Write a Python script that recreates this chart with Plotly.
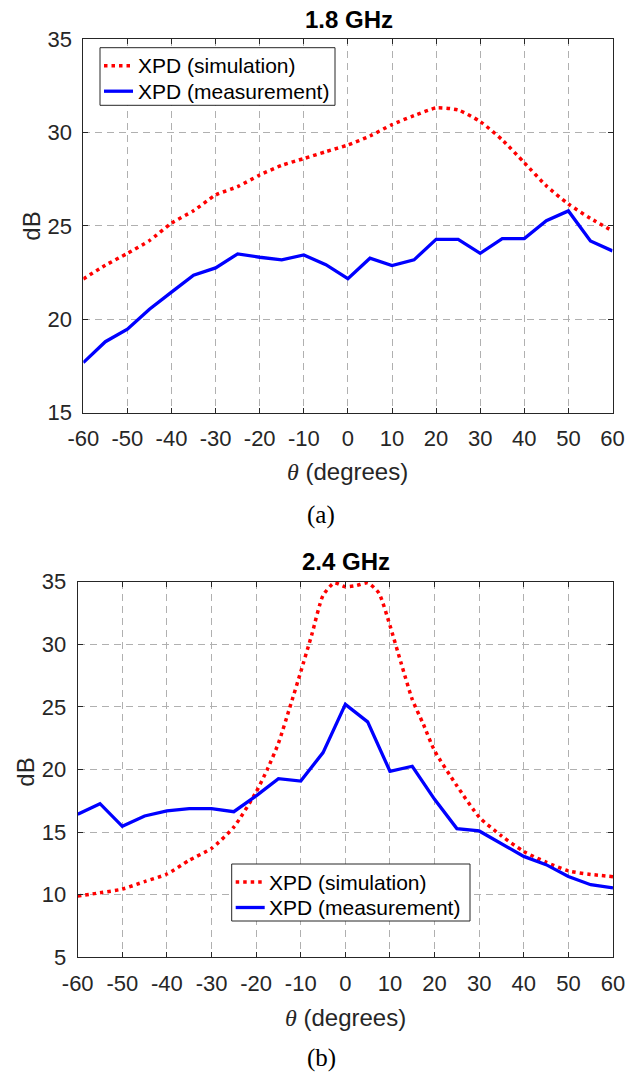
import plotly.graph_objects as go

# ---------------- data ----------------
theta = [-60, -55, -50, -45, -40, -35, -30, -25, -20, -15, -10, -5, 0,
         5, 10, 15, 20, 25, 30, 35, 40, 45, 50, 55, 60]

sim_a = [22.16, 22.89, 23.53, 24.21, 25.14, 25.81, 26.65, 27.1, 27.72, 28.24,
         28.6, 28.97, 29.33, 29.81, 30.42, 30.9, 31.31, 31.2, 30.58, 29.6,
         28.38, 27.14, 26.17, 25.4, 24.73]
meas_a = [17.68, 18.8, 19.47, 20.54, 21.45, 22.36, 22.75, 23.5, 23.32, 23.18,
          23.44, 22.92, 22.17, 23.27, 22.87, 23.18, 24.28, 24.28, 23.53, 24.32,
          24.32, 25.28, 25.8, 24.19, 23.66]

theta_sim_b = [-60, -55, -50, -45, -40, -35, -30, -25, -20, -17.5, -15, -12.5,
               -10, -7.5, -5, -2.5, 0, 2.5, 5, 7.5, 10, 12.5, 15, 17.5, 20,
               25, 30, 35, 40, 45, 50, 55, 60]
sim_b = [9.9, 10.15, 10.45, 11.05, 11.65, 12.75, 13.7, 15.4, 18.2, 20.0, 22.1,
         24.9, 27.8, 30.8, 33.9, 34.9, 34.6, 34.7, 34.9, 34.1, 31.5, 28.5,
         25.6, 23.6, 21.5, 18.7, 16.2, 14.7, 13.45, 12.6, 11.9, 11.62, 11.44]
meas_b = [16.42, 17.27, 15.46, 16.29, 16.69, 16.87, 16.87, 16.63, 17.89, 19.27,
          19.08, 21.35, 25.2, 23.8, 19.86, 20.26, 17.62, 15.28, 15.09, 14.1,
          13.06, 12.4, 11.45, 10.8, 10.55]

x_ticks = [-60, -50, -40, -30, -20, -10, 0, 10, 20, 30, 40, 50, 60]
x_ticktext = ["-60", "-50", "-40", "-30", "-20", "-10", "0", "10", "20",
              "30", "40", "50", "60"]
titles = ["1.8 GHz", "2.4 GHz"]
captions = ["(a)", "(b)"]
names = ["XPD (simulation)", "XPD (measurement)"]

# ---------------- layout helpers ----------------
W, H = 642, 1072
def px(x):
    return x / W
def py(y):
    return 1 - y / H

SANS = "Liberation Sans, Arial, sans-serif"
SERIF = "Liberation Serif, Times New Roman, serif"
RED = "#ff0000"
BLUE = "#0000ff"
AX = "#262626"
GRID = "#b0b0b0"
SIM_LINE = dict(color=RED, width=3.5, dash="3.5px,4px")
MEAS_LINE = dict(color=BLUE, width=3.3)

fig = go.Figure()

fig.add_trace(go.Scatter(x=theta, y=sim_a, mode="lines", name=names[0],
                         line=dict(shape="spline", smoothing=0.6, **SIM_LINE),
                         xaxis="x", yaxis="y", showlegend=False))
fig.add_trace(go.Scatter(x=theta, y=meas_a, mode="lines", name=names[1],
                         line=MEAS_LINE, xaxis="x", yaxis="y", showlegend=False))
fig.add_trace(go.Scatter(x=theta_sim_b, y=sim_b, mode="lines", name=names[0],
                         line=dict(shape="spline", smoothing=0.6, **SIM_LINE),
                         xaxis="x2", yaxis="y2", showlegend=False))
fig.add_trace(go.Scatter(x=theta, y=meas_b, mode="lines", name=names[1],
                         line=MEAS_LINE, xaxis="x2", yaxis="y2", showlegend=False))

axis_common = dict(
    showline=True, linecolor=AX, linewidth=1, mirror="allticks",
    ticks="inside", ticklen=5, tickcolor=AX, tickwidth=1,
    showgrid=True, gridcolor=GRID, gridwidth=1, griddash="7px,5px",
    zeroline=False, tickfont=dict(family=SANS, size=22, color=AX),
    automargin=False,
)
xax = dict(range=[-60, 60], tickvals=x_ticks, ticktext=x_ticktext,
           ticklabelstandoff=6, **axis_common)
yax = dict(dtick=5, ticklabelstandoff=6, **axis_common)

fig.update_layout(
    template="none",
    width=W, height=H,
    margin=dict(l=0, r=0, t=0, b=0, pad=0, autoexpand=False),
    paper_bgcolor="white", plot_bgcolor="white",
    font=dict(family=SANS, color=AX),
    xaxis=dict(domain=[px(83.3), px(612.5)], anchor="y", **xax),
    yaxis=dict(domain=[py(412.7), py(39)], range=[15, 35], anchor="x", **yax),
    xaxis2=dict(domain=[px(77.7), px(613)], anchor="y2", **xax),
    yaxis2=dict(domain=[py(957.3), py(581.7)], range=[5, 35], anchor="x2", **yax),
    showlegend=False,
)

annos = []
shapes = []
# titles
for t, (xc, yc) in zip(titles, [(349.3, 19.7), (345.8, 561.7)]):
    annos.append(dict(text="<b>%s</b>" % t, x=px(xc), y=py(yc), xref="paper", yref="paper",
                      showarrow=False, xanchor="center", yanchor="middle",
                      font=dict(family=SANS, size=24, color="black")))

xlabel = ('<span style="font-family:Liberation Serif;font-style:italic">θ</span>'
          ' (degrees)')
for xc, yc in [(348, 471.7), (345, 1017)]:
    annos.append(dict(text=xlabel, x=px(xc), y=py(yc), xref="paper", yref="paper",
                      showarrow=False, xanchor="center", yanchor="middle",
                      font=dict(family=SANS, size=24, color=AX)))
for xc, yc in [(32, 226.7), (26, 772.7)]:
    annos.append(dict(text="dB", x=px(xc), y=py(yc), xref="paper", yref="paper",
                      showarrow=False, xanchor="center", yanchor="middle", textangle=-90,
                      font=dict(family=SANS, size=24, color=AX)))
for cap, (xc, yc) in zip(captions, [(321, 515), (321.7, 1058)]):
    annos.append(dict(text=cap, x=px(xc), y=py(yc), xref="paper", yref="paper",
                      showarrow=False, xanchor="center", yanchor="middle",
                      font=dict(family=SERIF, size=25, color="black")))

# legends (box, sample line, label) for each panel
legend_boxes = [(100, 47.7, 335, 105.3), (231.7, 864, 470, 921)]
for (x0, y0, x1, y1) in legend_boxes:
    shapes.append(dict(type="rect", xref="paper", yref="paper",
                       x0=px(x0), x1=px(x1), y0=py(y1), y1=py(y0),
                       line=dict(color=AX, width=1), fillcolor="white", layer="above"))
    for i, (nm, ln) in enumerate(zip(names, [SIM_LINE, MEAS_LINE])):
        yy = y0 + 18 + i * 25.5
        shapes.append(dict(type="line", xref="paper", yref="paper",
                           x0=px(x0 + 4), x1=px(x0 + 33), y0=py(yy), y1=py(yy),
                           line=ln, layer="above"))
        annos.append(dict(text=nm, x=px(x0 + 35.5), y=py(yy), xref="paper", yref="paper",
                          showarrow=False, xanchor="left", yanchor="middle",
                          font=dict(family=SANS, size=21, color="black")))

fig.update_layout(annotations=annos, shapes=shapes)
fig.write_html("out.html", config={"displayModeBar": False},
               post_script="document.body.style.margin='0px';document.body.style.overflow='hidden';")
